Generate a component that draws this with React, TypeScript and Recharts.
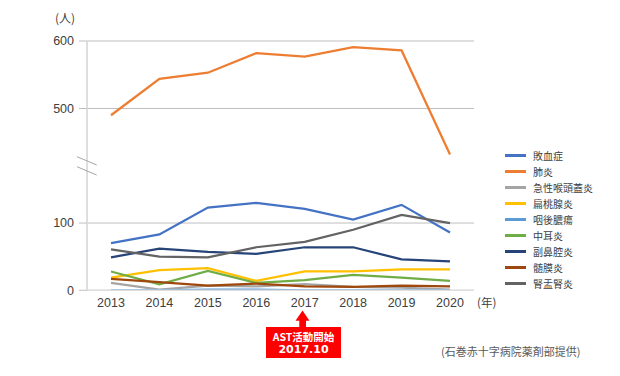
import { LineChart, Line, XAxis, YAxis, CartesianGrid, Legend } from 'recharts'

/* ---------- data ---------- */

const years = ['2013', '2014', '2015', '2016', '2017', '2018', '2019', '2020']

const sepsis = [70, 83, 123, 130, 121, 105, 127, 86]
const pneumonia = [490, 544, 553, 582, 577, 591, 586, 432]
const epiglottitis = [11, 1, 7, 6, 9, 5, 4, 1]
const tonsillitis = [19, 30, 33, 14, 28, 28, 31, 31]
const retropharyngeal = [0, 0, 1, 1, 0, 0, 0, 0]
const otitis = [28, 9, 29, 11, 15, 23, 19, 14]
const sinusitis = [49, 62, 57, 54, 64, 64, 46, 43]
const meningitis = [17, 12, 7, 10, 6, 5, 7, 6]
const pyelonephritis = [61, 50, 49, 64, 72, 90, 112, 100]

const upperTicks = [500, 600]
const lowerTicks = [0, 100]

const series = [
  { key: 's0', name: '敗血症', color: '#4472C4', values: sepsis },
  { key: 's1', name: '肺炎', color: '#ED7D31', values: pneumonia },
  { key: 's2', name: '急性喉頭蓋炎', color: '#A5A5A5', values: epiglottitis },
  { key: 's3', name: '扁桃腺炎', color: '#FFC000', values: tonsillitis },
  { key: 's4', name: '咽後膿瘍', color: '#5B9BD5', values: retropharyngeal },
  { key: 's5', name: '中耳炎', color: '#70AD47', values: otitis },
  { key: 's6', name: '副鼻腔炎', color: '#264478', values: sinusitis },
  { key: 's7', name: '髄膜炎', color: '#9E480E', values: meningitis },
  { key: 's8', name: '腎盂腎炎', color: '#636363', values: pyelonephritis },
]

const rows = years.map((year, i) => {
  const row: Record<string, string | number> = { year }
  series.forEach((s) => {
    row[s.key] = s.values[i]
  })
  return row
})

/* ---------- styles ---------- */

const NUM_FONT = '"Liberation Sans", "Noto Sans CJK JP", sans-serif'
const JP_FONT = '"Noto Sans CJK JP", sans-serif'
const GRID = '#bfbfbf'
const AXIS = '#dedede'
const TEXT = '#404040'

const tick = { fontSize: 12.5, fill: TEXT, fontFamily: NUM_FONT }

/* ---------- legend ---------- */

// eslint-disable-next-line @typescript-eslint/no-explicit-any
function LegendList({ payload }: any) {
  const names = series.map((s) => s.name)
  // eslint-disable-next-line @typescript-eslint/no-explicit-any
  const items = [...(payload ?? [])].sort((a: any, b: any) => names.indexOf(a.value) - names.indexOf(b.value))
  return (
    <ul style={{ listStyle: 'none', margin: 0, padding: 0 }}>
      {/* eslint-disable-next-line @typescript-eslint/no-explicit-any */}
      {items.map((p: any) => (
        <li key={p.value} style={{ display: 'flex', alignItems: 'center', height: 16 }}>
          <span style={{ display: 'inline-block', width: 21, height: 2.5, background: p.color, marginRight: 7 }} />
          <span>{p.value}</span>
        </li>
      ))}
    </ul>
  )
}

/* ---------- chart ---------- */

const W = 620
const H = 376
const PLOT_RIGHT = 146
const Y_W = 87

function renderLines() {
  return series.map((s) => (
    <Line
      key={s.key}
      dataKey={s.key}
      name={s.name}
      stroke={s.color}
      strokeWidth={2.25}
      dot={false}
      activeDot={false}
      type="linear"
      isAnimationActive={false}
    />
  ))
}

export default function App() {
  const abs = { position: 'absolute' as const, left: 0, top: 0 }
  return (
    <div style={{ position: 'absolute', left: 0, top: 0, width: W, height: H, background: '#fff', overflow: 'hidden' }}>
      {/* upper panel: 420–600 */}
      <div style={abs}>
        <LineChart width={W} height={H} data={rows} margin={{ top: 41, right: PLOT_RIGHT, left: 0, bottom: H - 162.5 }}>
          <CartesianGrid horizontal vertical={false} stroke={GRID} horizontalValues={upperTicks} />
          <XAxis dataKey="year" hide padding={{ left: 24, right: 24 }} />
          <YAxis
            width={Y_W}
            domain={[420, 600]}
            ticks={upperTicks}
            allowDataOverflow
            tick={tick}
            tickSize={8}
            tickMargin={5}
            tickLine={{ stroke: GRID }}
            axisLine={{ stroke: AXIS, strokeWidth: 2 }}
          />
          {renderLines()}
        </LineChart>
      </div>

      {/* lower panel: 0–190 */}
      <div style={abs}>
        <LineChart width={W} height={H} data={rows} margin={{ top: 162.5, right: PLOT_RIGHT, left: 0, bottom: H - 290.3 - 30 }}>
          <CartesianGrid horizontal vertical={false} stroke={GRID} horizontalValues={lowerTicks} />
          <XAxis
            dataKey="year"
            height={30}
            padding={{ left: 24, right: 24 }}
            tick={tick}
            tickLine={false}
            tickSize={6}
            tickMargin={2}
            axisLine={{ stroke: AXIS, strokeWidth: 1.5 }}
          />
          <YAxis
            width={Y_W}
            domain={[0, 190]}
            ticks={lowerTicks}
            allowDataOverflow
            tick={tick}
            tickSize={8}
            tickMargin={5}
            tickLine={{ stroke: GRID }}
            axisLine={{ stroke: AXIS, strokeWidth: 2 }}
          />
          <Legend
            layout="vertical"
            align="center"
            verticalAlign="middle"
            content={<LegendList />}
            wrapperStyle={{ left: 505, top: 147.7, width: 110, fontSize: 10, fontFamily: JP_FONT, color: TEXT }}
          />
          {renderLines()}
        </LineChart>
      </div>

      {/* axis break marks + AST arrow */}
      <svg style={{ position: 'absolute', left: 0, top: 0 }} width={W} height={H} pointerEvents="none">
        <line x1={77} y1={156.7} x2={96.7} y2={165} stroke="#a6a6a6" strokeWidth={1} />
        <line x1={77} y1={166.7} x2={96.7} y2={175} stroke="#a6a6a6" strokeWidth={1} />
        <polygon points="302.5,310.5 295.5,320.7 299.3,320.7 299.3,327 306,327 306,320.7 309.5,320.7" fill="#ff0000" />
      </svg>

      <div style={{ position: 'absolute', left: 55, top: 10, fontSize: 12, fontFamily: JP_FONT, color: TEXT, lineHeight: '16px' }}>
        (人)
      </div>
      <div style={{ position: 'absolute', left: 477, top: 293.5, fontSize: 11.5, fontFamily: JP_FONT, color: TEXT, lineHeight: '16px' }}>
        (年)
      </div>
      <div style={{ position: 'absolute', left: 441, top: 344, fontSize: 11, fontFamily: JP_FONT, color: '#595959', lineHeight: '15px' }}>
        (石巻赤十字病院薬剤部提供)
      </div>

      {/* annotation box */}
      <div
        style={{
          position: 'absolute',
          left: 266,
          top: 327,
          width: 75,
          height: 30.5,
          background: '#ff0000',
          color: '#fff',
          fontWeight: 700,
          textAlign: 'center',
        }}
      >
        <div style={{ position: 'absolute', left: 0, right: 0, top: 3, fontFamily: JP_FONT, fontSize: 10.5, lineHeight: '13px' }}>
          AST活動開始
        </div>
        <div style={{ position: 'absolute', left: 0, right: 0, top: 15.5, fontFamily: '"DejaVu Sans", sans-serif', fontSize: 11, lineHeight: '13px' }}>
          2017.10
        </div>
      </div>
    </div>
  )
}
